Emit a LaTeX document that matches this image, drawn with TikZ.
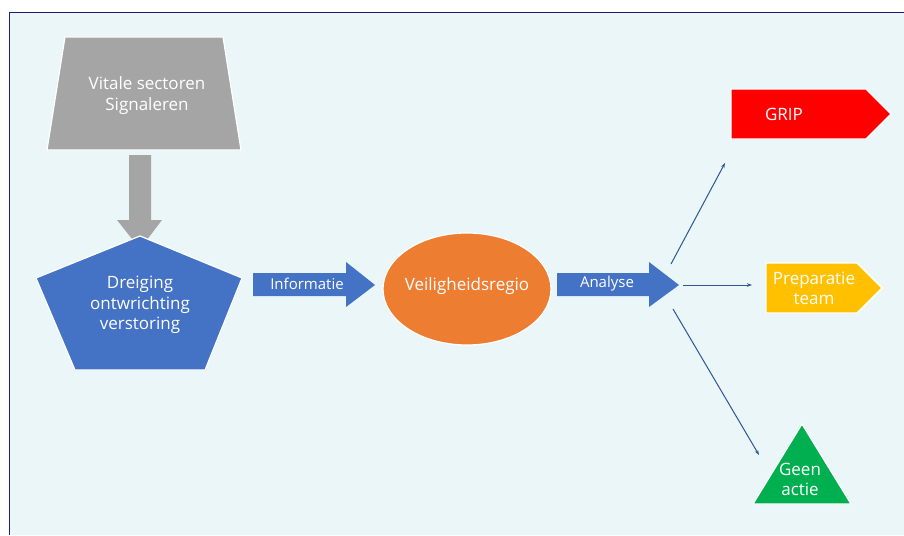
\documentclass[tikz,border=0pt]{standalone}
\usepackage{fontspec}
\setmainfont{Open Sans}
\usetikzlibrary{arrows.meta}
\definecolor{panel}{HTML}{EAF6F8}
\definecolor{frameblue}{HTML}{1F1F7A}
\definecolor{greyshape}{HTML}{A5A5A5}
\definecolor{blueshape}{HTML}{4472C4}
\definecolor{orangeshape}{HTML}{ED7D31}
\definecolor{redshape}{HTML}{FF0000}
\definecolor{goldshape}{HTML}{FFC000}
\definecolor{greenshape}{HTML}{00B050}
\definecolor{linkblue}{HTML}{2F5597}
\begin{document}
\begin{tikzpicture}[x=1pt,y=-1pt,
  txt/.style={text=white,align=center,inner sep=0pt,font=\fontsize{17}{20.5}\selectfont},
  smalltxt/.style={text=white,align=center,inner sep=0pt,font=\fontsize{15}{18}\selectfont},
  shapeline/.style={draw=white,line width=1.2pt},
  link/.style={draw=linkblue,line width=1pt,-{Stealth[length=5pt,width=3.5pt]}}]
\useasboundingbox (0,0) rectangle (904,535);
\fill[white] (0,0) rectangle (904,535);
\fill[panel] (9,12) rectangle (904,535);
\draw[frameblue,line width=0.7pt] (904,12) -- (9,12) -- (9,535);

% source trapezoid
\path[fill=greyshape,shapeline] (65,37) -- (223,37) -- (241,150) -- (47,150) -- cycle;
\node[txt] (vitale) at (147,95.5) {Vitale sectoren\\Signaleren};

% downward block arrow
\fill[greyshape] (129,155) -- (151,155) -- (151,220) -- (162,220) -- (140,249) -- (117,220) -- (129,220) -- cycle;

% pentagon
\path[fill=blueshape,shapeline] (140,236) -- (242,278) -- (205,370) -- (75,370) -- (36,278) -- cycle;
\node[txt] (dreiging) at (140,305) {Dreiging\\ontwrichting\\verstoring};

% block arrow: Informatie
\fill[blueshape] (253,273) -- (346,273) -- (346,262) -- (375,285) -- (346,307) -- (346,296) -- (253,296) -- cycle;
\node[smalltxt] (info) at (307,284) {Informatie};

% ellipse
\path[fill=orangeshape,shapeline] (467,289) ellipse [x radius=84,y radius=56];
\node[txt] (regio) at (467,286) {Veiligheidsregio};

% block arrow: Analyse
\fill[blueshape] (557,273) -- (649,273) -- (649,262) -- (679,285) -- (649,307) -- (649,296) -- (557,296) -- cycle;
\node[smalltxt] (analyse) at (607,284) {Analyse};

% outcomes
\path[fill=redshape,shapeline] (731,89) -- (866,89) -- (891,114) -- (866,139) -- (731,139) -- cycle;
\node[txt] (grip) at (784,114) {GRIP};

\path[fill=goldshape,shapeline] (766,263) -- (857,263) -- (882,288) -- (857,313) -- (766,313) -- cycle;
\node[txt] (prep) at (814,288.5) {Preparatie\\team};

\path[fill=greenshape,shapeline] (802,424) -- (851,504) -- (753,504) -- cycle;
\node[txt] (geen) at (800,479.5) {Geen\\actie};

% branches
\coordinate (b1s) at (671,264);
\coordinate (b1e) at (725,163);
\coordinate (b2s) at (683,285);
\coordinate (b2e) at (752,285);
\coordinate (b3s) at (673,309);
\coordinate (b3e) at (759,455);
\draw[link] (b1s) -- (b1e);
\draw[link] (b2s) -- (b2e);
\draw[link] (b3s) -- (b3e);
\end{tikzpicture}
\end{document}
